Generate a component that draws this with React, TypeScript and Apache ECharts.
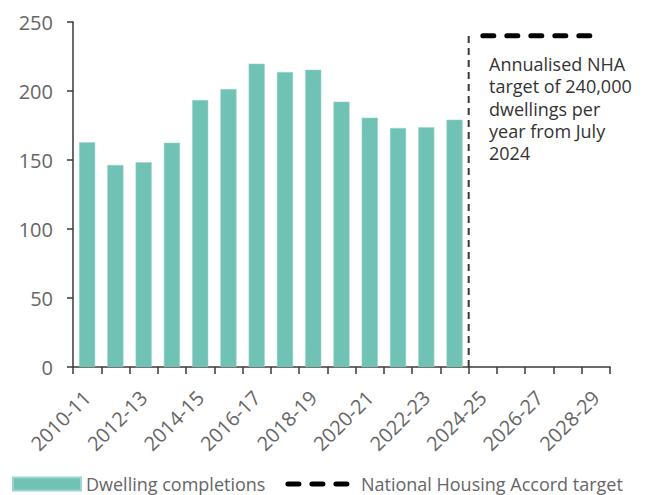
import React, { useEffect, useRef } from "react";
import * as echarts from "echarts";

const categories = [
  "2010-11", "2011-12", "2012-13", "2013-14", "2014-15", "2015-16", "2016-17",
  "2017-18", "2018-19", "2019-20", "2020-21", "2021-22", "2022-23", "2023-24",
  "2024-25", "2025-26", "2026-27", "2027-28", "2028-29",
];
const completions = [162.8, 146.4, 148.3, 162.5, 193.5, 201.4, 219.8, 213.8, 215.4, 192.3, 180.7, 173.2, 173.7, 179.2];
const targetValue = 240;
const targetStartIndex = 14;
const yTicks = { min: 0, max: 250, interval: 50 };
const annotationLines = ["Annualised NHA", "target of 240,000", "dwellings per", "year from July", "2024"];

const targetSeries = categories.map((_, i) => (i >= targetStartIndex ? targetValue : null));
const dividerSeries = [[targetStartIndex, 0], [targetStartIndex, targetValue]];

const FONT = "'Open Sans', 'Noto Sans', sans-serif";
const TARGET_LINE = { color: "#000", width: 5, type: [11, 13], cap: "round" };

export default function App() {
  const ref = useRef<HTMLDivElement>(null);
  useEffect(() => {
    if (!ref.current) return;
    const chart = echarts.init(ref.current, undefined, { renderer: "svg" });
    chart.setOption({
      animation: false,
      textStyle: { fontFamily: FONT },
      grid: { left: 73, right: 39, top: 22, bottom: 128, containLabel: false },
      legend: {
        left: 12,
        top: 475,
        padding: 0,
        itemWidth: 68,
        itemHeight: 13,
        itemGap: 20,
        textStyle: { fontFamily: FONT, fontSize: 18, color: "#666" },
        data: [
          { name: "Dwelling completions", icon: "rect" },
          {
            name: "National Housing Accord target",
            itemStyle: { color: "transparent", borderWidth: 0, opacity: 0 },
            lineStyle: TARGET_LINE,
          },
        ],
      },
      xAxis: [
        {
          type: "category",
          data: categories,
          boundaryGap: true,
          axisLine: { lineStyle: { color: "#3a3a3a", width: 1.5 } },
          axisTick: { show: true, interval: 0, length: 7, lineStyle: { color: "#3a3a3a", width: 1.5 } },
          axisLabel: {
            interval: 1,
            rotate: 45,
            margin: 27,
            fontSize: 20,
            color: "#666",
            fontFamily: FONT,
            padding: [0, 0, 8, 0],
          },
          splitLine: { show: false },
        },
        {
          type: "value",
          min: 0,
          max: categories.length,
          show: false,
        },
      ],
      yAxis: {
        type: "value",
        min: yTicks.min,
        max: yTicks.max,
        interval: yTicks.interval,
        axisLine: { show: true, lineStyle: { color: "#3a3a3a", width: 1.5 } },
        axisTick: { show: true, length: 6, lineStyle: { color: "#3a3a3a", width: 1.5 } },
        axisLabel: { margin: 20, fontSize: 20, color: "#666", fontFamily: FONT },
        splitLine: { show: false },
      },
      series: [
        {
          name: "Dwelling completions",
          type: "bar",
          data: completions,
          barCategoryGap: "43%",
          itemStyle: { color: "#70c2b4", borderColor: "#9ad6cb", borderWidth: 0.5 },
        },
        {
          name: "National Housing Accord target",
          type: "line",
          data: targetSeries,
          symbol: "none",
          showSymbol: false,
          lineStyle: TARGET_LINE,
          itemStyle: { color: "#000" },
        },
        {
          name: "divider",
          type: "line",
          xAxisIndex: 1,
          data: dividerSeries,
          symbol: "none",
          showSymbol: false,
          lineStyle: { color: "#3a3a3a", width: 2, type: [7, 5] },
          z: 1,
        },
      ],
      graphic: [
        {
          type: "text",
          left: 489,
          top: 53,
          style: {
            text: annotationLines.join("\n"),
            fontFamily: FONT,
            fontSize: 18,
            lineHeight: 22.3,
            fill: "#333",
          },
        },
      ],
    });
    return () => chart.dispose();
  }, []);
  return <div ref={ref} style={{ width: 649, height: 495, position: "absolute", left: 0, top: 0 }} />;
}
